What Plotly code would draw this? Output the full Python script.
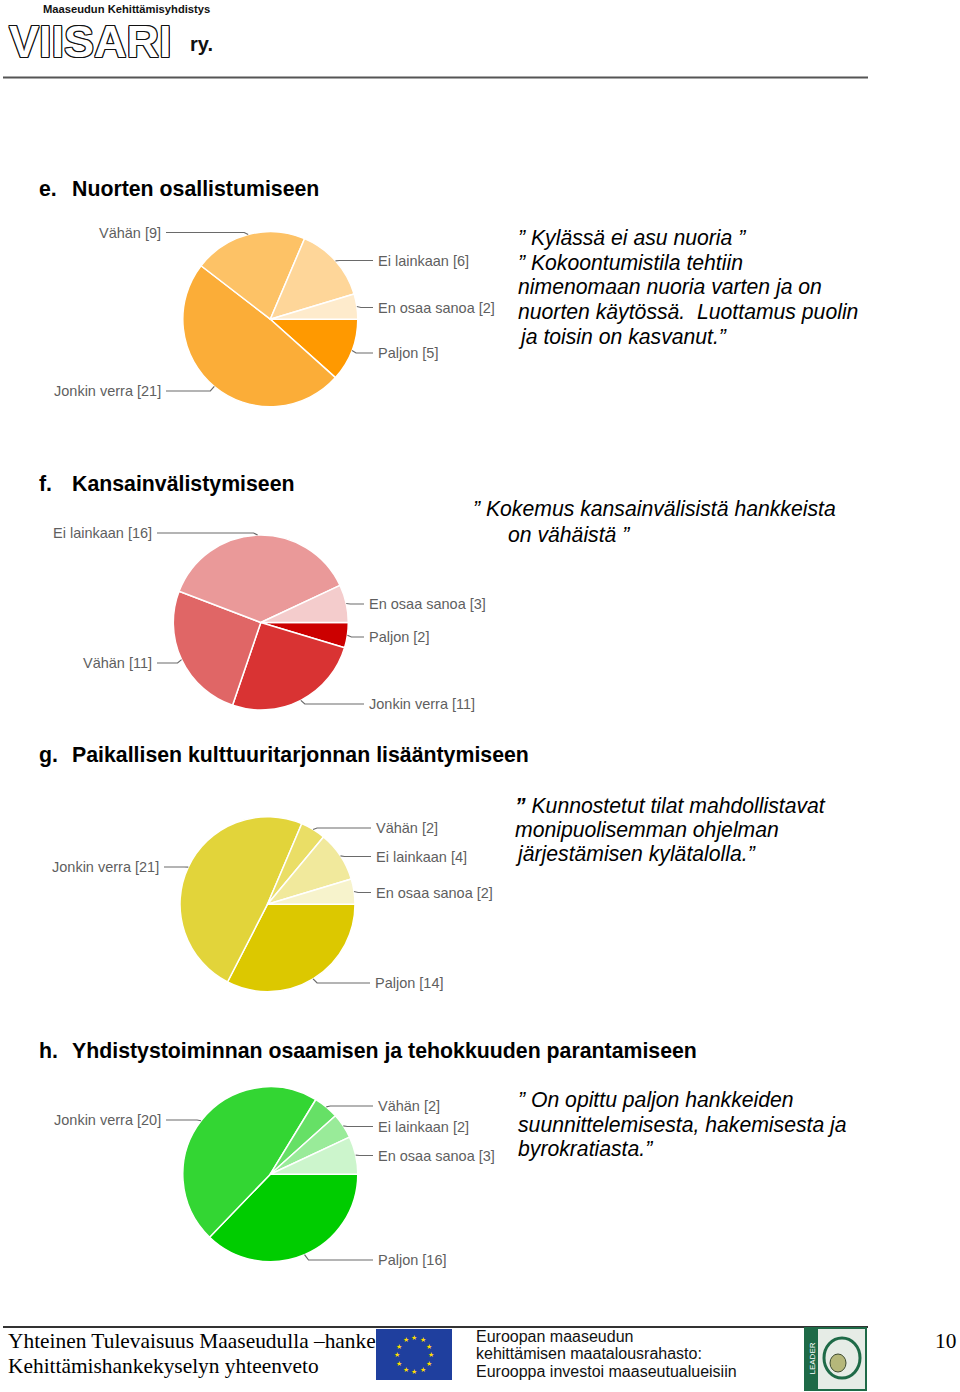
import math
import plotly.graph_objects as go

W, H = 960, 1392

# ---------------- data ----------------
categories = ["Paljon", "Jonkin verra", "Vähän", "Ei lainkaan", "En osaa sanoa"]
values_e = [5, 21, 9, 6, 2]
values_f = [2, 11, 11, 16, 3]
values_g = [14, 21, 2, 4, 2]
values_h = [16, 20, 2, 2, 3]

colors_e = ["#FF9900", "#FBAD38", "#FDC266", "#FED699", "#FEEBCC"]
colors_f = ["#CC0000", "#D93333", "#E06666", "#EA9999", "#F4CCCC"]
colors_g = ["#DCC800", "#E2D43A", "#EADE66", "#F1E99C", "#F7F3CC"]
colors_h = ["#00CC00", "#33D633", "#66E066", "#99EB99", "#CCF5CC"]

headings = [
    ("e.", "Nuorten osallistumiseen"),
    ("f.", "Kansainvälistymiseen"),
    ("g.", "Paikallisen kulttuuritarjonnan lisääntymiseen"),
    ("h.", "Yhdistystoiminnan osaamisen ja tehokkuuden parantamiseen"),
]

quote_e = ["” Kylässä ei asu nuoria ”", "” Kokoontumistila tehtiin",
           "nimenomaan nuoria varten ja on", "nuorten käytössä.&nbsp; Luottamus puolin",
           "ja toisin on kasvanut.”"]
quote_f = ["” Kokemus kansainvälisistä hankkeista", "on vähäistä ”"]
quote_g = ["<b>”</b> Kunnostetut tilat mahdollistavat", "monipuolisemman ohjelman",
           "järjestämisen kylätalolla.”"]
quote_h = ["” On opittu paljon hankkeiden", "suunnittelemisesta, hakemisesta ja",
           "byrokratiasta.”"]

# ---------------- layout helpers ----------------
def px(x):
    return x / W

def py(y):
    return 1 - y / H

SANS = "Liberation Sans, Arial, sans-serif"
SERIF = "Liberation Serif, Times New Roman, serif"

fig = go.Figure()
annotations = []
shapes = []

def text(x, y, t, size, color="#000", anchor="left", family=SANS, **kw):
    annotations.append(dict(x=px(x), y=py(y), xref="paper", yref="paper", text=t,
                            showarrow=False, xanchor=anchor, yanchor="middle",
                            font=dict(size=size, color=color, family=family, **kw)))

# pies: center, radius, label placement per category (side, x, y)
pies = [
    dict(values=values_e, colors=colors_e, c=(270.3, 319.2), r=87.5,
         labels={"Paljon": ("R", 376, 353), "Jonkin verra": ("L", 163, 391),
                 "Vähän": ("L", 163, 232.5), "Ei lainkaan": ("R", 376, 260.5),
                 "En osaa sanoa": ("R", 376, 307.5)}),
    dict(values=values_f, colors=colors_f, c=(260.8, 622.5), r=87.5,
         labels={"Paljon": ("R", 367, 637), "Jonkin verra": ("R", 367, 704),
                 "Vähän": ("L", 154, 663), "Ei lainkaan": ("L", 154, 533),
                 "En osaa sanoa": ("R", 367, 604)}),
    dict(values=values_g, colors=colors_g, c=(267.5, 904.2), r=87.5,
         labels={"Paljon": ("R", 373, 983), "Jonkin verra": ("L", 161, 867),
                 "Vähän": ("R", 374, 828), "Ei lainkaan": ("R", 374, 856.5),
                 "En osaa sanoa": ("R", 374, 892.5)}),
    dict(values=values_h, colors=colors_h, c=(270.3, 1174.2), r=87.5,
         labels={"Paljon": ("R", 376, 1260), "Jonkin verra": ("L", 163, 1120),
                 "Vähän": ("R", 376, 1106), "Ei lainkaan": ("R", 376, 1126.5),
                 "En osaa sanoa": ("R", 376, 1155.5)}),
]

for p in pies:
    cx, cy = p["c"]
    r = p["r"]
    fig.add_trace(go.Pie(
        labels=categories, values=p["values"], sort=False, direction="clockwise",
        rotation=90, textinfo="none", hoverinfo="label+value",
        marker=dict(colors=p["colors"], line=dict(color="#FFFFFF", width=1.5)),
        domain=dict(x=[px(cx - r), px(cx + r)], y=[py(cy + r), py(cy - r)]),
        showlegend=False))
    total = sum(p["values"])
    cum = 0
    for cat, v in zip(categories, p["values"]):
        mid = (cum + v / 2) / total * 2 * math.pi  # clockwise from 3 o'clock
        cum += v
        ex = cx + r * math.cos(mid)
        ey = cy + r * math.sin(mid)
        side, lx, ly = p["labels"][cat]
        s = 1 if side == "R" else -1
        elbow_x = ex + s * 4
        end_x = lx - s * 3
        shapes.append(dict(type="path", xref="paper", yref="paper",
                           path=f"M {px(ex)},{py(ey)} L {px(elbow_x)},{py(ly)} L {px(end_x)},{py(ly)}",
                           line=dict(color="#6A6A6A", width=1.2)))
        text(lx, ly, f"{cat} [{v}]", 14.5, color="#5f5f5f",
             anchor="left" if side == "R" else "right")

# headings
for (lbl, title), y in zip(headings, [189, 484, 755, 1051]):
    text(37, y, f"<b>{lbl}</b>", 21.3)
    text(69.5, y, f"<b>{title}</b>", 21.3)

# quotes
for i, line in enumerate(quote_e):
    text(516, 238 + i * 24.7, line, 21.2, style="italic")
text(471, 509, quote_f[0], 21.2, style="italic")
text(506, 534, quote_f[1], 21.2, style="italic")
for i, line in enumerate(quote_g):
    text(513, 805 + i * 24.5, line, 21.2, style="italic")
for i, line in enumerate(quote_h):
    text(516, 1100 + i * 24.7, line, 21.2, style="italic")

# header logo
text(41, 9, "<b>Maaseudun Kehittämisyhdistys</b>", 11.2, color="#111")
text(7, 41.5, "<b>VIISARI</b>", 45, color="#FFFFFF",
     shadow="1px 0 0 #111, -1px 0 0 #111, 0 1px 0 #111, 0 -1px 0 #111, 1px 1px 0 #111, -1px -1px 0 #111, 1px -1px 0 #111, -1px 1px 0 #111")
text(188, 44, "<b>ry.</b>", 20, color="#111")
shapes.append(dict(type="line", xref="paper", yref="paper", x0=px(3), x1=px(868),
                   y0=py(77.5), y1=py(77.5), line=dict(color="#555", width=2)))

# footer
shapes.append(dict(type="line", xref="paper", yref="paper", x0=px(3), x1=px(868),
                   y0=py(1327), y1=py(1327), line=dict(color="#333", width=2)))
text(6, 1341, "Yhteinen Tulevaisuus Maaseudulla –hanke", 21.4, family=SERIF)
text(6, 1366, "Kehittämishankekyselyn yhteenveto", 21.4, family=SERIF)
text(958, 1341, "10", 21.4, family=SERIF, anchor="right")

# EU flag
shapes.append(dict(type="rect", xref="paper", yref="paper", x0=px(376), x1=px(452),
                   y0=py(1380), y1=py(1329), fillcolor="#1F3F9E", line=dict(width=0)))
for k in range(12):
    a = k * math.pi / 6
    text(414 + 17 * math.sin(a), 1354.5 - 17 * math.cos(a), "★", 7, color="#FFDD00",
         anchor="center")
for i, line in enumerate(["Euroopan maaseudun", "kehittämisen maatalousrahasto:",
                          "Eurooppa investoi maaseutualueisiin"]):
    text(474, 1336 + i * 17.5, line, 16, color="#111")

# LEADER logo
shapes.append(dict(type="rect", xref="paper", yref="paper", x0=px(805), x1=px(866),
                   y0=py(1390), y1=py(1328), fillcolor="#E6ECE6",
                   line=dict(color="#1E6A47", width=2)))
shapes.append(dict(type="rect", xref="paper", yref="paper", x0=px(805), x1=px(818),
                   y0=py(1390), y1=py(1328), fillcolor="#1E6A47", line=dict(width=0)))
shapes.append(dict(type="circle", xref="paper", yref="paper", x0=px(824), x1=px(860),
                   y0=py(1378), y1=py(1338), line=dict(color="#1E6A47", width=3)))
shapes.append(dict(type="circle", xref="paper", yref="paper", x0=px(830), x1=px(846),
                   y0=py(1372), y1=py(1354), fillcolor="#B5B77A",
                   line=dict(color="#3E4A2E", width=1)))
annotations.append(dict(x=px(811.5), y=py(1359), xref="paper", yref="paper", text="LEADER",
                        showarrow=False, textangle=-90, xanchor="center", yanchor="middle",
                        font=dict(size=8, color="#FFFFFF", family=SANS)))

fig.update_layout(
    width=W, height=H, margin=dict(l=0, r=0, t=0, b=0),
    paper_bgcolor="#FFFFFF", plot_bgcolor="#FFFFFF",
    annotations=annotations, shapes=shapes,
    xaxis=dict(visible=False), yaxis=dict(visible=False),
)

fig.write_html("out.html")
